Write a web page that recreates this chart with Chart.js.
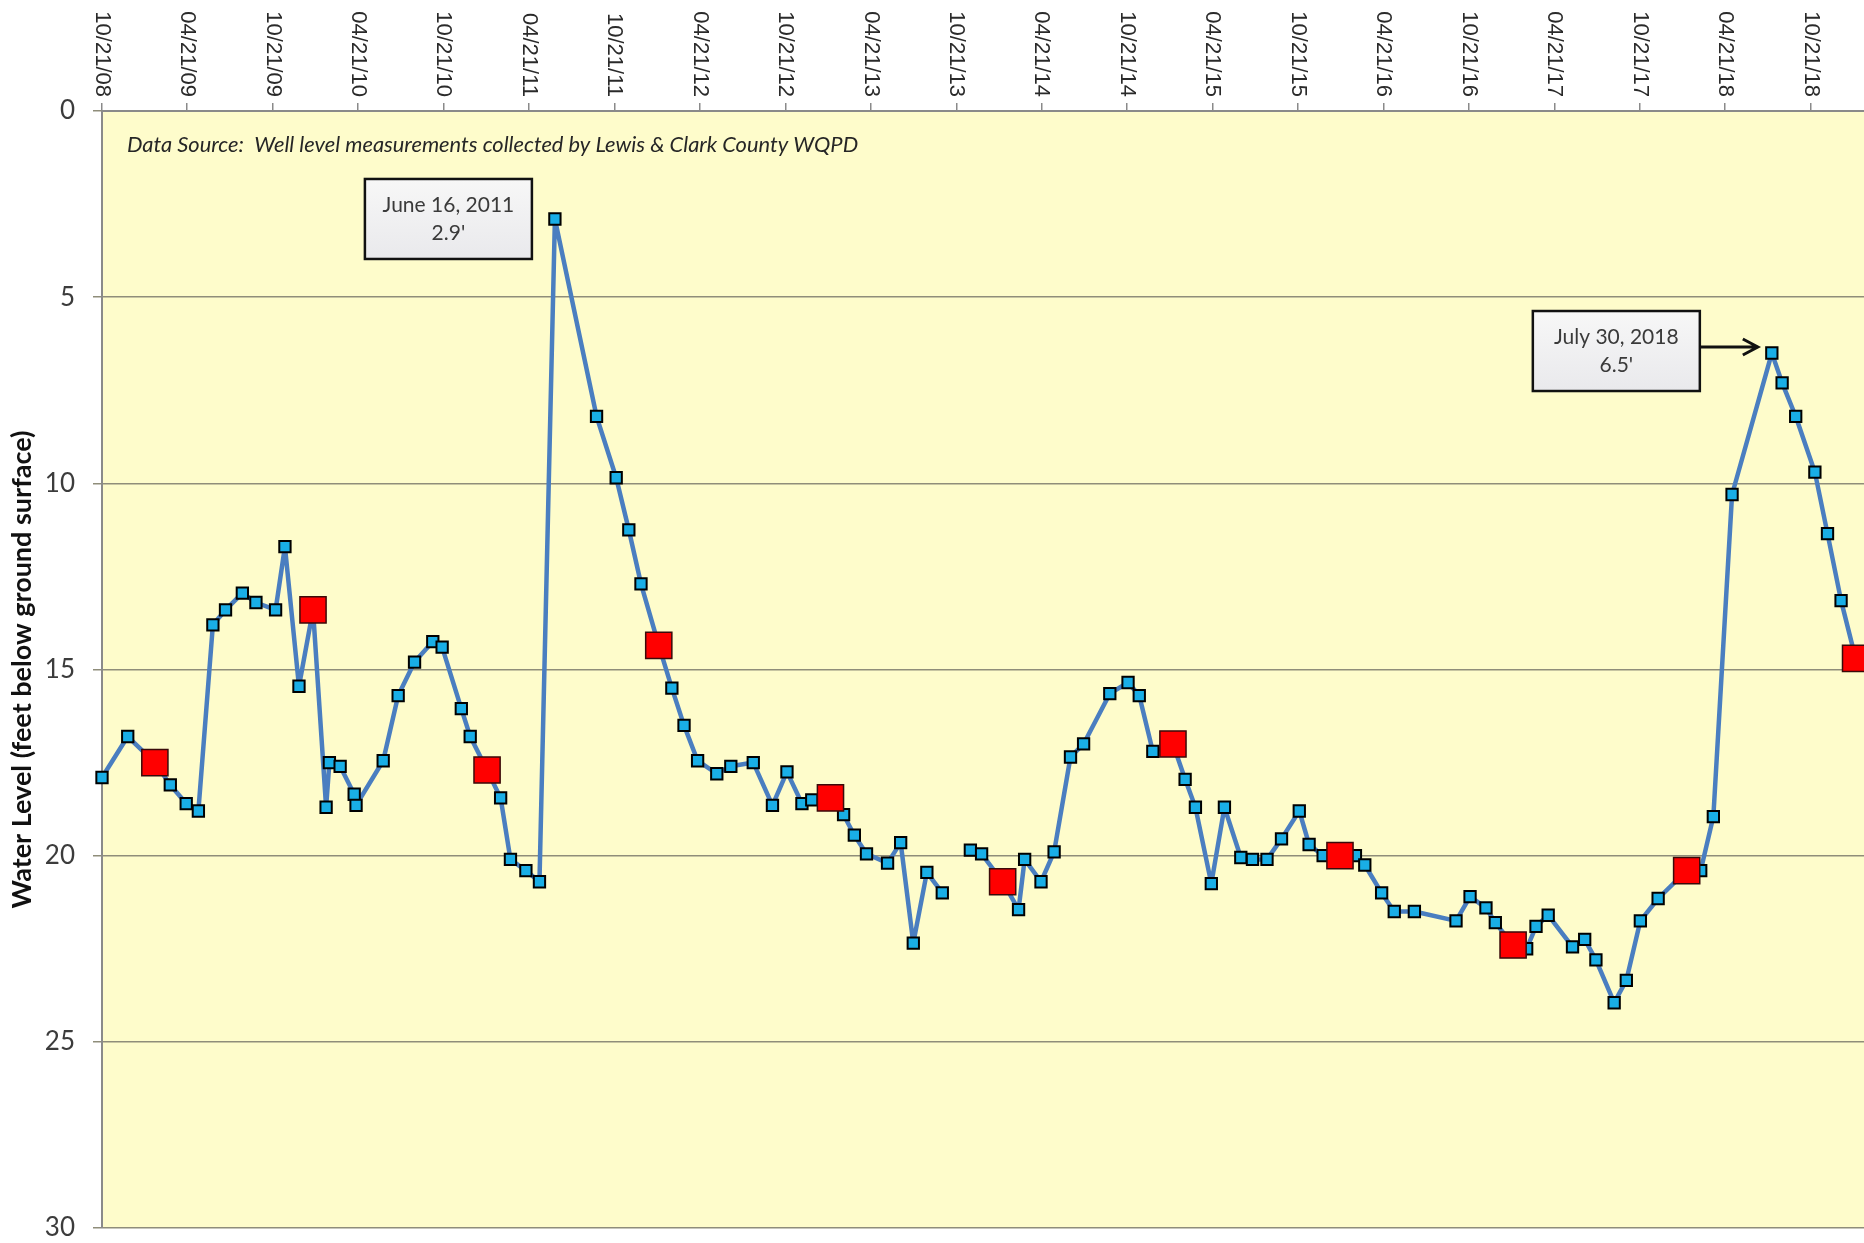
<!DOCTYPE html>
<html lang="en">
<head>
<meta charset="UTF-8" />
<title>Well Water Level</title>
<style>
  html, body { margin: 0; padding: 0; background: #ffffff; }
  #wellChart { display: block; }
</style>
</head>
<body>
<canvas id="wellChart" width="1864" height="1243"></canvas>
<script src="https://cdn.jsdelivr.net/npm/chart.js@4.4.1/dist/chart.umd.min.js"></script>
<script>
  // routine readings (small blue markers), feet below ground surface
  const blueDates = [
    '2008-10-21', '2008-12-15', '2009-03-16', '2009-04-19', '2009-05-15', '2009-06-15',
    '2009-07-12', '2009-08-17', '2009-09-15', '2009-10-27', '2009-11-16', '2009-12-16',
    '2010-02-12', '2010-02-19', '2010-03-14', '2010-04-13', '2010-04-17', '2010-06-14',
    '2010-07-16', '2010-08-20', '2010-09-28', '2010-10-18', '2010-11-28', '2010-12-17',
    '2011-02-20', '2011-03-13', '2011-04-15', '2011-05-14', '2011-06-16', '2011-09-13',
    '2011-10-25', '2011-11-21', '2011-12-17', '2012-02-21', '2012-03-18', '2012-04-16',
    '2012-05-27', '2012-06-26', '2012-08-13', '2012-09-23', '2012-10-24', '2012-11-25',
    '2012-12-16', '2013-02-22', '2013-03-17', '2013-04-12', '2013-05-27', '2013-06-24',
    '2013-07-21', '2013-08-19', '2013-09-21', '2013-11-20', '2013-12-14', '2014-03-03',
    '2014-03-16', '2014-04-20', '2014-05-18', '2014-06-22', '2014-07-20', '2014-09-14',
    '2014-10-23', '2014-11-16', '2014-12-15', '2015-02-22', '2015-03-16', '2015-04-19',
    '2015-05-17', '2015-06-21', '2015-07-16', '2015-08-16', '2015-09-16', '2015-10-24',
    '2015-11-14', '2015-12-14', '2016-02-21', '2016-03-12', '2016-04-17', '2016-05-14',
    '2016-06-26', '2016-09-23', '2016-10-23', '2016-11-26', '2016-12-16', '2017-02-21',
    '2017-03-13', '2017-04-08', '2017-05-30', '2017-06-25', '2017-07-19', '2017-08-27',
    '2017-09-22', '2017-10-22', '2017-11-29', '2018-02-28', '2018-03-27', '2018-05-06',
    '2018-07-30', '2018-08-21', '2018-09-19', '2018-10-30', '2018-11-26', '2018-12-25'
  ];
  const blueLevels = [
    17.9, 16.8, 18.1, 18.6, 18.8, 13.8,
    13.4, 12.95, 13.2, 13.4, 11.7, 15.45,
    18.7, 17.5, 17.6, 18.35, 18.65, 17.45,
    15.7, 14.8, 14.25, 14.4, 16.05, 16.8,
    18.45, 20.1, 20.4, 20.7, 2.9, 8.2,
    9.85, 11.25, 12.7, 15.5, 16.5, 17.45,
    17.8, 17.6, 17.5, 18.65, 17.75, 18.6,
    18.5, 18.9, 19.45, 19.95, 20.2, 19.65,
    22.35, 20.45, 21.0, 19.85, 19.95, 21.45,
    20.1, 20.7, 19.9, 17.35, 17.0, 15.65,
    15.35, 15.7, 17.2, 17.95, 18.7, 20.75,
    18.7, 20.05, 20.1, 20.1, 19.55, 18.8,
    19.7, 20.0, 20.0, 20.25, 21.0, 21.5,
    21.5, 21.75, 21.1, 21.4, 21.8, 22.5,
    21.9, 21.6, 22.45, 22.25, 22.8, 23.95,
    23.35, 21.75, 21.15, 20.4, 18.95, 10.3,
    6.5, 7.3, 8.2, 9.7, 11.35, 13.15
  ];

  // January readings (large red markers)
  const redDates = [
    '2009-02-11', '2010-01-15', '2011-01-22', '2012-01-24', '2013-01-25', '2014-01-28',
    '2015-01-27', '2016-01-19', '2017-01-23', '2018-01-29', '2019-01-25'
  ];
  const redLevels = [17.5, 13.4, 17.7, 14.35, 18.45, 20.7, 17.0, 20.0, 22.4, 20.4, 14.7];

  // the connecting line is broken here (no reading)
  const lineBreaks = ['2013-10-20'];

  const tickLabels = [
    '10/21/08', '04/21/09', '10/21/09', '04/21/10', '10/21/10', '04/21/11', '10/21/11',
    '04/21/12', '10/21/12', '04/21/13', '10/21/13', '04/21/14', '10/21/14', '04/21/15',
    '10/21/15', '04/21/16', '10/21/16', '04/21/17', '10/21/17', '04/21/18', '10/21/18'
  ];
  const axisStart = '2008-10-21';
  const axisEnd = '2019-02-12';

  const calloutDates = ['2011-06-16', '2018-07-30'];
  const calloutTitles = ['June 16, 2011', 'July 30, 2018'];
  const calloutValues = ["2.9'", "6.5'"];

  const sourceNote = 'Data Source:  Well level measurements collected by Lewis & Clark County WQPD';

  const dayNum = s => {
    const [y, m, d] = s.split('-').map(Number);
    return Date.UTC(y, m - 1, d) / 864e5;
  };
  const tickDay = lbl => {
    const [m, d, y] = lbl.split('/').map(Number);
    return Date.UTC(2000 + y, m - 1, d) / 864e5;
  };

  const bluePts = blueDates.map((d, i) => ({ x: dayNum(d), y: blueLevels[i] }));
  const redPts = redDates.map((d, i) => ({ x: dayNum(d), y: redLevels[i] }));
  const linePts = bluePts.concat(redPts, lineBreaks.map(d => ({ x: dayNum(d), y: null })))
    .sort((a, b) => a.x - b.x);

  const CAL = 'Lato, "Open Sans", sans-serif';

  // plot background, rotated date labels, note and the two callouts
  const decor = {
    id: 'decor',
    beforeDraw(chart) {
      const { ctx, chartArea: a } = chart;
      ctx.save();
      ctx.fillStyle = '#ffffff';
      ctx.fillRect(0, 0, chart.width, chart.height);
      ctx.fillStyle = '#fefccb';
      ctx.fillRect(a.left, a.top, a.right - a.left, a.bottom - a.top);
      ctx.restore();
    },
    afterDraw(chart) {
      const { ctx, chartArea: a } = chart;
      const xs = chart.scales.x, ys = chart.scales.y;
      ctx.save();

      // x labels read top to bottom
      ctx.font = '22px "Liberation Sans", Arial, sans-serif';
      ctx.fillStyle = '#2a2a2a';
      ctx.textAlign = 'right';
      ctx.textBaseline = 'middle';
      tickLabels.forEach(lbl => {
        const px = xs.getPixelForValue(tickDay(lbl));
        ctx.save();
        ctx.translate(px, xs.bottom - 14);
        ctx.rotate(Math.PI / 2);
        ctx.fillText(lbl, 0, 0);
        ctx.restore();
      });

      // source note
      ctx.font = 'italic 20px ' + CAL;
      const w = ctx.measureText(sourceNote).width;
      const size = 20 * 731 / w;
      ctx.font = 'italic ' + size.toFixed(2) + 'px ' + CAL;
      ctx.fillStyle = '#262626';
      ctx.textAlign = 'left';
      ctx.fillText(sourceNote, a.left + 25, a.top + 34);

      // callouts
      calloutDates.forEach((d, i) => {
        const idx = blueDates.indexOf(d);
        const px = xs.getPixelForValue(dayNum(d));
        const py = ys.getPixelForValue(blueLevels[idx]);
        const bw = 167, bh = 80;
        const gapX = i === 0 ? 23 : 72;
        const bx = px - gapX - bw;
        const by = py - bh / 2 - (i === 0 ? 0 : 2);
        const g = ctx.createLinearGradient(0, by, 0, by + bh);
        g.addColorStop(0, '#f7f7f7');
        g.addColorStop(1, '#e9e9ec');
        ctx.fillStyle = g;
        ctx.fillRect(bx, by, bw, bh);
        ctx.strokeStyle = '#111';
        ctx.lineWidth = 2.5;
        ctx.strokeRect(bx, by, bw, bh);
        ctx.fillStyle = '#3a3a3a';
        ctx.font = '21px ' + CAL;
        ctx.textAlign = 'center';
        ctx.textBaseline = 'middle';
        ctx.fillText(calloutTitles[i], bx + bw / 2, by + bh / 2 - 14);
        ctx.fillText(calloutValues[i], bx + bw / 2, by + bh / 2 + 14);
        if (i === 1) {
          const ay = by + bh / 2 - 4;
          const tip = px - 14;
          ctx.strokeStyle = '#111';
          ctx.lineWidth = 3;
          ctx.beginPath();
          ctx.moveTo(bx + bw, ay);
          ctx.lineTo(tip, ay);
          ctx.moveTo(tip - 15, ay - 8);
          ctx.lineTo(tip, ay);
          ctx.lineTo(tip - 15, ay + 8);
          ctx.stroke();
        }
      });
      ctx.restore();
    }
  };

  new Chart(document.getElementById('wellChart').getContext('2d'), {
    type: 'line',
    data: {
      datasets: [
        {
          label: 'January',
          data: redPts,
          showLine: false,
          pointStyle: 'rect',
          pointRadius: 18.5,
          backgroundColor: '#ff0000',
          borderColor: '#3a0a0a',
          borderWidth: 1.5,
          clip: false,
          order: 0
        },
        {
          label: 'Readings',
          data: bluePts,
          showLine: false,
          pointStyle: 'rect',
          pointRadius: 8,
          backgroundColor: '#19aee6',
          borderColor: '#000000',
          borderWidth: 2,
          clip: false,
          order: 1
        },
        {
          label: 'Water level',
          data: linePts,
          borderColor: '#4a7ec0',
          borderWidth: 4.5,
          borderJoinStyle: 'round',
          borderCapStyle: 'round',
          pointRadius: 0,
          tension: 0,
          spanGaps: false,
          clip: false,
          order: 2
        }
      ]
    },
    options: {
      responsive: false,
      animation: false,
      devicePixelRatio: 1,
      layout: { autoPadding: false, padding: { left: 0, right: 0, top: 0, bottom: 15 } },
      plugins: { legend: { display: false }, tooltip: { enabled: false } },
      scales: {
        x: {
          type: 'linear',
          position: 'top',
          min: dayNum(axisStart),
          max: dayNum(axisEnd),
          afterBuildTicks: s => { s.ticks = tickLabels.map(l => ({ value: tickDay(l) })); },
          afterFit: s => { s.height = 111; s.paddingLeft = 0; s.paddingRight = 0; },
          ticks: { display: false },
          grid: { drawOnChartArea: false, drawTicks: true, tickLength: 8, color: '#8a8a8a', lineWidth: 1.5 },
          border: { color: '#8a8a8a', width: 2 }
        },
        y: {
          reverse: true,
          min: 0,
          max: 30,
          afterFit: s => { s.width = 102; s.paddingTop = 0; s.paddingBottom = 0; },
          ticks: {
            stepSize: 5,
            padding: 18,
            color: '#3c3c3c',
            font: { family: CAL, size: 26 }
          },
          grid: { color: '#8f8d7a', lineWidth: 1.5, tickLength: 9 },
          border: { color: '#8a8a8a', width: 2 },
          title: {
            display: true,
            text: 'Water Level (feet below ground surface)',
            color: '#111',
            font: { family: CAL, size: 27, weight: 'bold' },
            padding: { top: 6, bottom: 0 }
          }
        }
      }
    },
    plugins: [decor]
  });
</script>
</body>
</html>
